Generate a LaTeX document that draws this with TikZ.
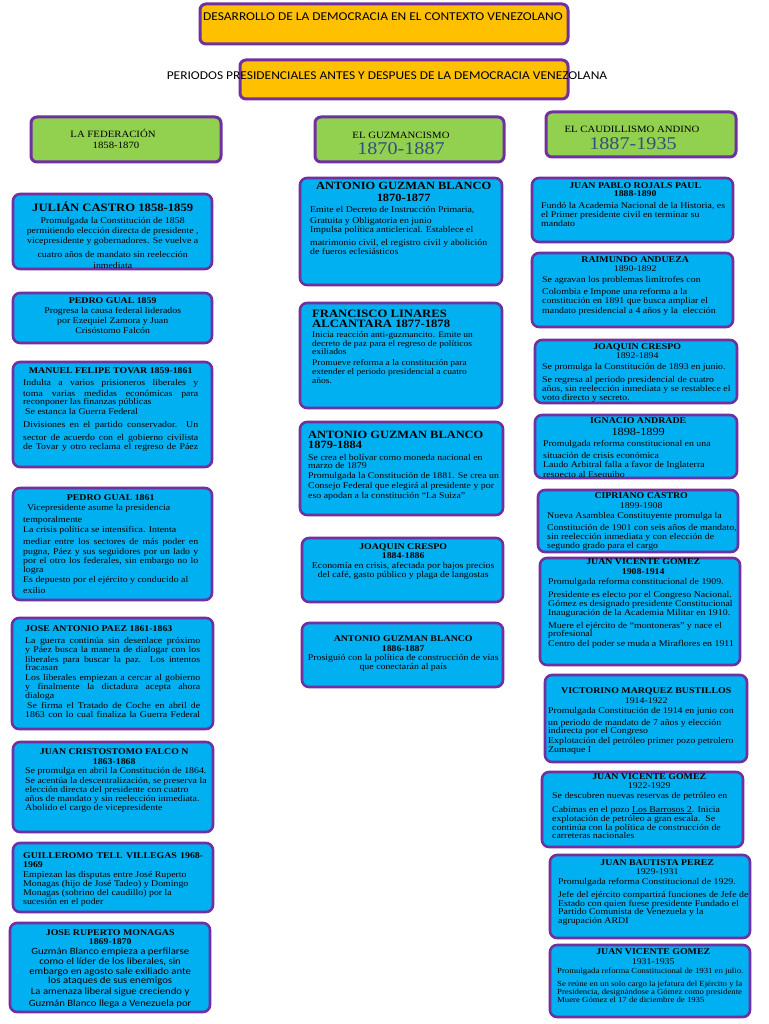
\documentclass[tikz,border=0pt]{standalone}
\usepackage{fontspec}
\setmainfont{Liberation Serif}[FakeStretch=1.12]
\newfontfamily\calfont{Carlito}[FakeStretch=1.12]
\usetikzlibrary{fit}
\definecolor{cyanb}{RGB}{0,176,240}
\definecolor{purp}{RGB}{112,48,160}
\definecolor{grn}{RGB}{146,208,80}
\definecolor{org}{RGB}{255,192,0}
\definecolor{yrs}{RGB}{52,78,125}
\def\mybs{10}
\newcommand\TB[4]{\vtop{\hsize=#1pt\lineskiplimit=-100pt\lineskip=0pt\fontsize{#2}{#3}\selectfont\def\mybs{#3}#4}}
\newcommand\Lx[2][\mybs]{\baselineskip=#1pt\hbox to\hsize{#2\hss}}
\newcommand\Cx[2][\mybs]{\baselineskip=#1pt\hbox to\hsize{\hss#2\hss}}
\newcommand\Jx[2][\mybs]{\baselineskip=#1pt\hbox to\hsize{#2}}
\newcommand\Hd[2]{{\bfseries\fontsize{#1}{#1}\selectfont #2}}
\newcommand\Sf{\calfont\fontsize{9.6}{10}\selectfont}
\begin{document}
\begin{tikzpicture}[x=1pt,y=-1pt,
  bbox/.style={draw=purp, fill=cyanb, line width=2.6pt, rounded corners=7pt, inner sep=0pt},
  gbox/.style={draw=purp, fill=grn, line width=3pt, rounded corners=6pt, inner sep=0pt},
  obox/.style={draw=purp, fill=org, line width=3pt, rounded corners=6pt, inner sep=0pt},
  txt/.style={inner sep=0pt, anchor=base west},
  ttl/.style={inner sep=0pt, anchor=base, font=\calfont\fontsize{12}{12}\selectfont},
  ser/.style={inner sep=0pt, anchor=base, font=\fontsize{9.6}{10}\selectfont},
  yr/.style={inner sep=0pt, anchor=base, text=yrs, font=\fontsize{18}{18}\selectfont}]
\fill[white] (0,0) rectangle (768,1024);
\useasboundingbox (0,0) rectangle (768,1024);

% ---------- titles ----------
\node[obox, fit={(200,4) (568,44)}] (title1) {};
\node[ttl] (title1t) at (383,21) {DESARROLLO DE LA DEMOCRACIA EN EL CONTEXTO VENEZOLANO};
\node[obox, fit={(240,60) (568,99)}] (title2) {};
\node[ttl] (title2t) at (387,80) {PERIODOS PRESIDENCIALES ANTES Y DESPUES DE LA DEMOCRACIA VENEZOLANA};

% ---------- column headers ----------
\node[gbox, fit={(31,117) (221,162)}] (h1) {};
\node[ser] (h1a) at (113,138) {LA FEDERACIÓN};
\node[ser] (h1b) at (116,149) {1858-1870};
\node[gbox, fit={(315,117) (504,162)}] (h2) {};
\node[ser] (h2a) at (401,139) {EL GUZMANCISMO};
\node[yr] (h2b) at (401,155) {1870-1887};
\node[gbox, fit={(546,112) (736,157)}] (h3) {};
\node[ser] (h3a) at (632,133) {EL CAUDILLISMO ANDINO};
\node[yr] (h3b) at (633,150) {1887-1935};

% ---------- left column ----------
\node[bbox, fit={(13,194) (212,269)}] (b1) {};
\begin{scope}
\clip[rounded corners=6pt] (14.5,195.5) rectangle (210.5,267.5);
\node[txt] (t1) at (18,212) {\TB{189}{8.8}{11}{%
\Cx{\Hd{11.3}{JULIÁN CASTRO 1858-1859}}
\Cx{Promulgada la Constitución de 1858}
\Cx[10]{permitiendo elección directa de presidente ,}
\Cx{vicepresidente y gobernadores. Se vuelve a}
\Cx[13]{cuatro años de mandato sin reelección}
\Cx{inmediata}}};
\end{scope}

\node[bbox, fit={(13,293) (212,343)}] (b2) {};
\node[txt] (t2) at (18,303) {\TB{189}{8.8}{10}{%
\Cx{\Hd{8.8}{PEDRO GUAL 1859}}
\Cx{Progresa la causa federal liderados}
\Cx{por Ezequiel Zamora y Juan}
\Cx{Crisóstomo Falcón}}};

\node[bbox, fit={(13,362) (212,467)}] (b3) {};
\node[txt] (t3) at (23,373) {\TB{175}{8.8}{11}{%
\Cx{\Hd{8.8}{MANUEL FELIPE TOVAR 1859-1861}}
\Jx[12]{Indulta a varios prisioneros liberales y}
\Jx{toma varias medidas económicas para}
\Lx[8]{reconponer las finanzas públicas}
\Lx[10]{\hspace{2pt}Se estanca la Guerra Federal}
\Jx[13]{Divisiones en el partido conservador. Un}
\Jx[13]{sector de acuerdo con el gobierno civilista}
\Jx[9]{de Tovar y otro reclama el regreso de Páez}}};

\node[bbox, fit={(13,488) (212,600)}] (b4) {};
\node[txt] (t4) at (23,500) {\TB{175}{8.8}{10}{%
\Cx{\Hd{8.8}{PEDRO GUAL 1861}}
\Lx{\hspace{4pt}Vicepresidente asume la presidencia}
\Lx[12]{temporalmente}
\Lx{La crisis política se intensifica. Intenta}
\Jx[12]{mediar entre los sectores de más poder en}
\Jx{pugna, Páez y sus seguidores por un lado y}
\Jx[9]{por el otro los federales, sin embargo no lo}
\Lx[9]{logra}
\Lx{Es depuesto por el ejército y conducido al}
\Lx[11]{exilio}}};

\node[bbox, fit={(12,618) (213,729)}] (b5) {};
\node[txt] (t5) at (25,631) {\TB{175}{8.8}{9}{%
\Lx{\Hd{8.8}{JOSE ANTONIO PAEZ 1861-1863}}
\Jx[12]{La guerra continúa sin desenlace próximo}
\Jx{y Páez busca la manera de dialogar con los}
\Jx[10]{liberales para buscar la paz. Los intentos}
\Lx[8]{fracasan}
\Jx[10]{Los liberales empiezan a cercar al gobierno}
\Jx{y finalmente la dictadura acepta ahora}
\Lx{dialoga}
\Jx[10]{\hspace{2pt}Se firma el Tratado de Coche en abril de}
\Jx{1863 con lo cual finaliza la Guerra Federal}}};

\node[bbox, fit={(13,742) (213,832)}] (b6) {};
\node[txt] (t6) at (25,754) {\TB{178}{8.8}{9}{%
\Cx{\Hd{8.8}{JUAN CRISTOSTOMO FALCO N}}
\Cx[10]{\Hd{8.8}{1863-1868}}
\Lx{Se promulga en abril la Constitución de 1864.}
\Lx[10]{Se acentúa la descentralización, se preserva la}
\Lx{elección directa del presidente con cuatro}
\Lx{años de mandato y sin reelección inmediata.}
\Lx{Abolido el cargo de vicepresidente}}};

\node[bbox, fit={(13,843) (213,912)}] (b7) {};
\node[txt] (t7) at (23,858) {\TB{180}{8.8}{9}{%
\Jx{\Hd{8.8}{GUILLEROMO TELL VILLEGAS 1968-}}
\Lx{\Hd{8.8}{1969}}
\Lx[10]{Empiezan las disputas entre José Ruperto}
\Lx{Monagas (hijo de José Tadeo) y Domingo}
\Lx{Monagas (sobrino del caudillo) por la}
\Lx{sucesión en el poder}}};

\node[bbox, fit={(10,923) (210,1012)}] (b8) {};
\begin{scope}
\clip[rounded corners=6pt] (11.5,924.5) rectangle (208.5,1010.5);
\node[txt] (t8) at (15,935) {\TB{190}{8.8}{10}{%
\Cx{\Hd{8.8}{JOSE RUPERTO MONAGAS}}
\Cx[9]{\Hd{8.8}{1869-1870}}
\Cx{\Sf Guzmán Blanco empieza a perfilarse}
\Cx{\Sf como el líder de los liberales, sin}
\Cx{\Sf embargo en agosto sale exiliado ante}
\Cx[9]{\Sf los ataques de sus enemigos}
\Cx[11]{\Sf La amenaza liberal sigue creciendo y}
\Cx[12]{\Sf Guzmán Blanco llega a Venezuela por}}};
\end{scope}

% ---------- middle column ----------
\node[bbox, fit={(300,178) (502,285)}] (m1) {};
\node[txt] (u1) at (310,190) {\TB{187}{8.8}{11}{%
\Cx{\Hd{11.1}{ANTONIO GUZMAN BLANCO}}
\Cx[12]{\Hd{11.1}{1870-1877}}
\Lx{Emite el Decreto de Instrucción Primaria,}
\Lx{Gratuita y Obligatoria en junio}
\Lx[9]{Impulsa política anticlerical. Establece el}
\Lx[12]{matrimonio civil, el registro civil y abolición}
\Lx[10]{de fueros eclesiásticos}}};

\node[bbox, fit={(300,303) (502,408)}] (m2) {};
\node[txt] (u2) at (312,317) {\TB{185}{8.5}{9}{%
\Lx{\Hd{11.3}{FRANCISCO LINARES}}
\Lx[10]{\Hd{11.3}{ALCANTARA 1877-1878}}
\Lx[10]{Inicia reacción anti-guzmancito. Emite un}
\Lx{decreto de paz para el regreso de políticos}
\Lx[8]{exiliados}
\Lx[11]{Promueve reforma a la constitución para}
\Lx{extender el periodo presidencial a cuatro}
\Lx{años.}}};

\node[bbox, fit={(300,422) (503,515)}] (m3) {};
\node[txt] (u3) at (308,438) {\TB{194}{8.8}{10}{%
\Lx{\Hd{11.1}{ANTONIO GUZMAN BLANCO}}
\Lx{\Hd{11.1}{1879-1884}}
\Lx[12]{Se crea el bolívar como moneda nacional en}
\Lx[8]{marzo de 1879}
\Lx{Promulgada la Constitución de 1881. Se crea un}
\Lx{Consejo Federal que elegirá al presidente y por}
\Lx{eso apodan a la constitución “La Suiza”}}};

\node[bbox, fit={(302,538) (503,602)}] (m4) {};
\node[txt] (u4) at (307,549) {\TB{192}{8.8}{9}{%
\Cx{\Hd{8.8}{JOAQUIN CRESPO}}
\Cx{\Hd{8.8}{1884-1886}}
\Cx[10]{Economía en crisis, afectada por bajos precios}
\Cx{del café, gasto público y plaga de langostas}}};

\node[bbox, fit={(302,623) (503,687)}] (m5) {};
\node[txt] (u5) at (307,641) {\TB{192}{8.8}{9}{%
\Cx{\Hd{8.8}{ANTONIO GUZMAN BLANCO}}
\Cx[10]{\Hd{8.8}{1886-1887}}
\Cx{Prosiguió con la política de construcción de vías}
\Cx{que conectarán al país}}};

% ---------- right column ----------
\node[bbox, fit={(532,178) (733,242)}] (r1) {};
\node[txt] (v1) at (541,189) {\TB{188}{8.8}{9}{%
\Cx{\Hd{8.8}{JUAN PABLO ROJALS PAUL}}
\Cx[8]{\Hd{8.8}{1888-1890}}
\Lx[12]{Fundó la Academia Nacional de la Historia, es}
\Lx{el Primer presidente civil en terminar su}
\Lx{mandato}}};

\node[bbox, fit={(532,253) (733,327)}] (r2) {};
\node[txt] (v2) at (542,262) {\TB{186}{8.8}{9}{%
\Cx{\Hd{8.8}{RAIMUNDO ANDUEZA}}
\Cx{1890-1892}
\Lx[11]{Se agravan los problemas limítrofes con}
\Lx[12]{Colombia e Impone una reforma a la}
\Lx{constitución en 1891 que busca ampliar el}
\Lx[10]{mandato presidencial a 4 años y la\ \ elección}}};

\node[bbox, fit={(535,340) (737,403)}] (r3) {};
\node[txt] (v3) at (542,349) {\TB{190}{8.8}{9}{%
\Cx{\Hd{8.8}{JOAQUIN CRESPO}}
\Cx{1892-1894}
\Lx[11]{Se promulga la Constitución de 1893 en junio.}
\Lx[13]{Se regresa al periodo presidencial de cuatro}
\Lx{años, sin reelección inmediata y se restablece el}
\Lx{voto directo y secreto.}}};

\node[bbox, fit={(535,415) (737,478)}] (r4) {};
\begin{scope}
\clip[rounded corners=6pt] (536.5,416.5) rectangle (735.5,476.5);
\node[txt] (v4) at (543,423) {\TB{190}{8.8}{9}{%
\Cx{\Hd{8.8}{IGNACIO ANDRADE}}
\Cx[12]{\fontsize{11}{11}\selectfont 1898-1899}
\Lx[11]{Promulgada reforma constitucional en una}
\Lx[12]{situación de crisis económica}
\Lx{Laudo Arbitral falla a favor de Inglaterra}
\Lx[10]{respecto al Esequibo}}};
\end{scope}

\node[bbox, fit={(538,490) (738,552)}] (r5) {};
\begin{scope}
\clip[rounded corners=6pt] (539.5,491.5) rectangle (736.5,550.5);
\node[txt] (v5) at (547,498) {\TB{188}{8.8}{10}{%
\Cx{\Hd{8.8}{CIPRIANO CASTRO}}
\Cx{1899-1908}
\Lx{Nueva Asamblea Constituyente promulga la}
\Lx[12]{Constitución de 1901 con seis años de mandato,}
\Lx[9]{sin reelección inmediata y con elección de}
\Lx[9]{segundo grado para el cargo}}};
\end{scope}

\node[bbox, fit={(540,558) (740,665)}] (r6) {};
\node[txt] (v6) at (548,564) {\TB{190}{8.8}{9}{%
\Cx{\Hd{8.8}{JUAN VICENTE GOMEZ}}
\Cx[10]{\Hd{8.8}{1908-1914}}
\Lx[10]{Promulgada reforma constitucional de 1909.}
\Lx[13]{Presidente es electo por el Congreso Nacional.}
\Lx{Gómez es designado presidente Constitucional}
\Lx{Inauguración de la Academia Militar en 1910.}
\Lx[13]{Muere el ejército de “montoneras” y nace el}
\Lx[8]{profesional}
\Lx[10]{Centro del poder se muda a Miraflores en 1911}}};

\node[bbox, fit={(545,675) (747,762)}] (r7) {};
\node[txt] (v7) at (548,693) {\TB{196}{8.8}{10}{%
\Cx{\Hd{8.8}{VICTORINO MARQUEZ BUSTILLOS}}
\Cx{1914-1922}
\Lx{Promulgada Constitución de 1914 en junio con}
\Lx[12]{un periodo de mandato de 7 años y elección}
\Lx[8]{indirecta por el Congreso}
\Lx{Explotación del petróleo primer pozo petrolero}
\Lx[9]{Zumaque I}}};

\node[bbox, fit={(542,772) (743,847)}] (r8) {};
\node[txt] (v8) at (552,779) {\TB{194}{8.8}{9}{%
\Cx{\Hd{8.8}{JUAN VICENTE GOMEZ}}
\Cx{1922-1929}
\Lx[10]{Se descubren nuevas reservas de petróleo en}
\Lx[14]{Cabimas en el pozo \underline{Los Barrosos 2}. Inicia}
\Lx{explotación de petróleo a gran escala.\ \ Se}
\Lx{continúa con la política de construcción de}
\Lx[8]{carreteras nacionales}}};

\node[bbox, fit={(550,855) (750,938)}] (r9) {};
\begin{scope}
\clip[rounded corners=6pt] (551.5,856.5) rectangle (748.5,936.5);
\node[txt] (v9) at (558,865) {\TB{198}{8.8}{9}{%
\Cx{\Hd{8.8}{JUAN BAUTISTA PEREZ}}
\Cx{1929-1931}
\Lx[10]{Promulgada reforma Constitucional de 1929.}
\Lx[13]{Jefe del ejército compartirá funciones de Jefe de}
\Lx{Estado con quien fuese presidente Fundado el}
\Lx[8]{Partido Comunista de Venezuela y la}
\Lx{agrupación ARDI}}};
\end{scope}

\node[bbox, fit={(550,945) (750,1017)}] (r10) {};
\node[txt] (v10) at (557,954) {\TB{192}{7.8}{8}{%
\Cx{\Hd{8.8}{JUAN VICENTE GOMEZ}}
\Cx[10]{\fontsize{8.8}{9}\selectfont 1931-1935}
\Lx[9]{Promulgada reforma Constitucional de 1931 en julio.}
\Lx[13]{Se reúne en un solo cargo la jefatura del Ejército y la}
\Lx{Presidencia, designándose a Gómez como presidente}
\Lx{Muere Gómez el 17 de diciembre de 1935}}};
\end{tikzpicture}
\end{document}
